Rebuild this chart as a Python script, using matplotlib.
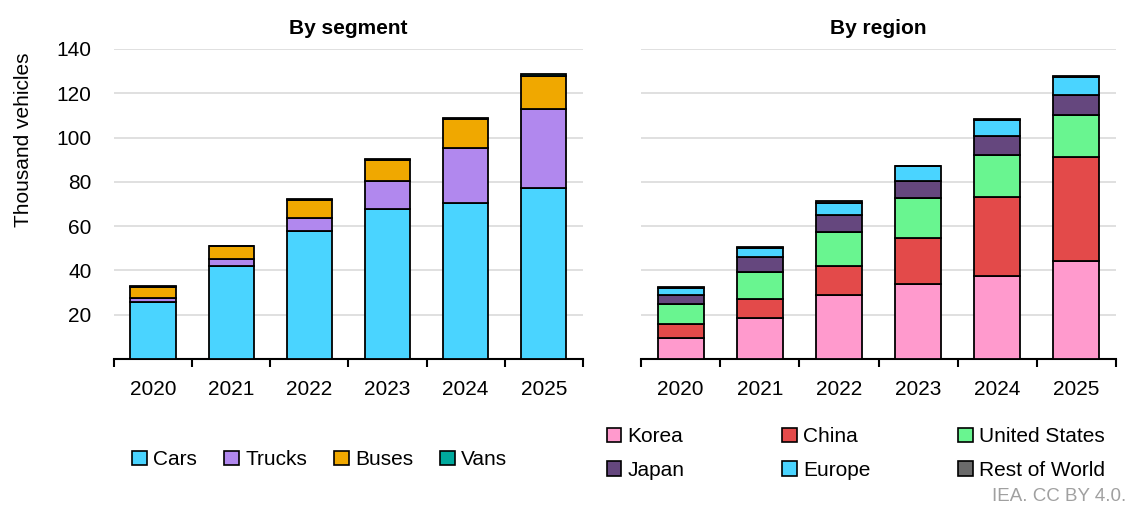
import numpy as np
import matplotlib.pyplot as plt
from matplotlib.patches import Patch

plt.rcParams['font.family'] = ['Liberation Sans', 'DejaVu Sans']

years = ['2020', '2021', '2022', '2023', '2024', '2025']

# By segment (thousand vehicles)
cars = [25.6, 42.1, 57.7, 67.9, 70.6, 77.1]
trucks = [2.1, 2.9, 6.1, 12.5, 24.8, 35.8]
buses = [5.0, 6.0, 8.0, 9.5, 13.1, 15.1]
vans = [0.2, 0.2, 0.3, 0.3, 0.4, 0.5]

# By region (thousand vehicles)
korea = [9.3, 18.5, 29.0, 33.7, 37.4, 44.4]
china = [6.5, 8.5, 13.0, 20.8, 35.9, 46.7]
united_states = [9.0, 12.3, 15.2, 18.1, 18.8, 19.1]
japan = [4.1, 6.6, 7.8, 7.9, 8.8, 9.2]
europe = [3.0, 4.2, 5.6, 6.5, 7.2, 7.8]
rest_of_world = [0.5, 0.6, 0.6, 0.3, 0.4, 0.8]

segment_series = [('Cars', cars, '#4AD4FF'), ('Trucks', trucks, '#B188EE'),
                  ('Buses', buses, '#F0A800'), ('Vans', vans, '#00A99D')]
region_series = [('Korea', korea, '#FF9ACD'), ('China', china, '#E34A4A'),
                 ('United States', united_states, '#69F590'), ('Japan', japan, '#65477E'),
                 ('Europe', europe, '#4AD4FF'), ('Rest of World', rest_of_world, '#6A6A6A')]

fs = 15
fig = plt.figure(figsize=(11.34, 5.07), dpi=100)
ax1 = fig.add_axes([0.1005, 0.2919, 0.4135, 0.6115])
ax2 = fig.add_axes([0.5653, 0.2919, 0.4188, 0.6115])


def draw(ax, series, title):
    x = np.arange(len(years))
    bottom = np.zeros(len(years))
    for name, vals, col in series:
        ax.bar(x, vals, 0.58, bottom=bottom, color=col, edgecolor='black',
               linewidth=1.3, zorder=3)
        bottom += np.array(vals)
    ax.set_ylim(0, 140)
    ax.set_xlim(-0.5, len(years) - 0.5)
    ax.set_yticks(np.arange(20, 141, 20))
    ax.yaxis.grid(True, color='#DDDDDD', linewidth=1.3, zorder=0)
    ax.tick_params(axis='y', length=0, labelsize=fs, pad=16)
    ax.set_xticks(np.arange(-0.5, len(years), 1))
    ax.set_xticklabels([])
    ax.set_xticks(x, minor=True)
    ax.set_xticklabels(years, minor=True, fontsize=fs)
    ax.tick_params(axis='x', which='major', length=6, width=1.5, color='black')
    ax.tick_params(axis='x', which='minor', length=0, pad=15)
    for s in ['top', 'right', 'left']:
        ax.spines[s].set_visible(False)
    ax.spines['bottom'].set_linewidth(1.5)
    ax.set_title(title, fontsize=fs, fontweight='bold', pad=11)


draw(ax1, segment_series, 'By segment')
draw(ax2, region_series, 'By region')
ax2.set_yticklabels([])
ax1.set_ylabel('Thousand vehicles', fontsize=fs)
ax1.yaxis.set_label_coords(-0.172, 0.706)

h1 = [Patch(facecolor=c, edgecolor='black', linewidth=1.2) for _, _, c in segment_series]
fig.legend(h1, [n for n, _, _ in segment_series], loc='center', bbox_to_anchor=(0.282, 0.093),
           ncol=4, frameon=False, fontsize=fs, handlelength=0.7, handleheight=0.7,
           handletextpad=0.3, columnspacing=1.3)

# one small legend per column so the columns sit where the reference has them
col_x = [0.535, 0.690, 0.845]
for k, cx in enumerate(col_x):
    items = [region_series[k], region_series[k + 3]]
    hs = [Patch(facecolor=c, edgecolor='black', linewidth=1.2) for _, _, c in items]
    fig.legend(hs, [n for n, _, _ in items], loc='center left', bbox_to_anchor=(cx, 0.105),
               frameon=False, fontsize=fs, handlelength=0.7, handleheight=0.7,
               handletextpad=0.3, labelspacing=0.7, borderpad=0, borderaxespad=0)

fig.text(0.993, 0.02, 'IEA. CC BY 4.0.', ha='right', va='center', fontsize=13.5, color='#A0A0A0')

fig.savefig('out.png', dpi=100)
